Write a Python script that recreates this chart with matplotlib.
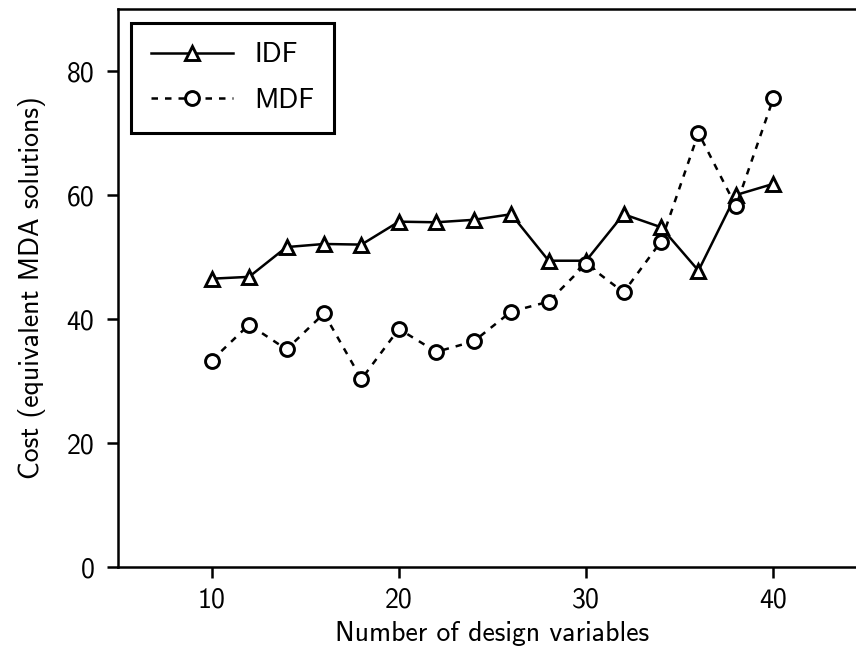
import numpy as np
import matplotlib
matplotlib.use('Agg')
import matplotlib.pyplot as plt

matplotlib.rcParams['font.family'] = ['cmss10', 'DejaVu Sans']
matplotlib.rcParams['axes.unicode_minus'] = False

# cost of each formulation vs. problem size
n_vars = [10, 12, 14, 16, 18, 20, 22, 24, 26, 28, 30, 32, 34, 36, 38, 40]
idf_cost = [46.5, 46.8, 51.6, 52.1, 52.0, 55.7, 55.6, 56.0, 56.9, 49.4, 49.4, 56.9, 54.8, 47.8, 60.0, 61.8]
mdf_cost = [33.3, 39.1, 35.1, 40.9, 30.3, 38.4, 34.7, 36.4, 41.2, 42.8, 48.9, 44.3, 52.5, 70.0, 58.2, 75.6]

W, H = 856, 650
fig = plt.figure(figsize=(W / 100., H / 100.), dpi=100)
# axes runs a little past the right edge of the figure
ax = fig.add_axes([118. / W, 83. / H, 749. / W, 558. / H])

ax.plot(n_vars, idf_cost, 'k-', marker='^', markersize=10, markeredgewidth=2.1,
        markerfacecolor='w', markeredgecolor='k', linewidth=1.8, label='IDF')
ax.plot(n_vars, mdf_cost, 'k', linestyle=(0, (2.6, 2.8)), marker='o', markersize=10,
        markeredgewidth=2.1, markerfacecolor='w', markeredgecolor='k', linewidth=1.8,
        label='MDF')

ax.set_xlim([5, 45])
ax.set_ylim([0, 90])
ax.set_xticks([10, 20, 30, 40])
ax.set_yticks([0, 20, 40, 60, 80])

for side in ['left', 'bottom', 'top', 'right']:
    ax.spines[side].set_linewidth(1.8)
ax.tick_params(direction='out', length=8, width=1.8, labelsize=20)
ax.tick_params(axis='y', pad=9)
ax.tick_params(axis='x', pad=7)

ax.set_xlabel('Number of design variables', fontsize=20, labelpad=6)
ax.set_ylabel('Cost (equivalent MDA solutions)', fontsize=20, labelpad=15)

leg = ax.legend(loc='upper left', bbox_to_anchor=(0.0174, 0.9754), borderaxespad=0,
                fontsize=20, numpoints=1, handlelength=2.95, handletextpad=0.79,
                labelspacing=0.74, borderpad=0.71, fancybox=False, framealpha=1)
leg.get_frame().set_edgecolor('k')
leg.get_frame().set_linewidth(2.2)

plt.savefig('out.png', dpi=100)
plt.close()
